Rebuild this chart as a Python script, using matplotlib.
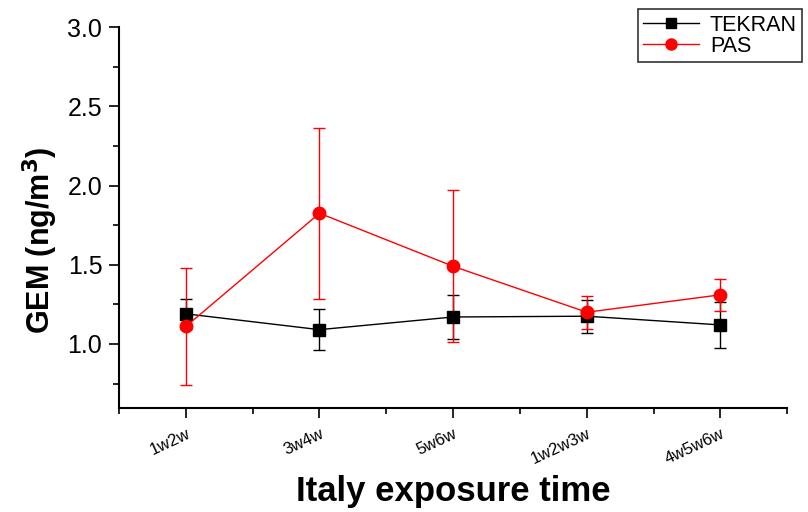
import matplotlib.pyplot as plt
from matplotlib.ticker import MultipleLocator
from matplotlib.lines import Line2D
import numpy as np

plt.rcParams['font.family'] = ['Liberation Sans', 'DejaVu Sans']

# GEM means and errors per exposure window
periods = ["1w2w", "3w4w", "5w6w", "1w2w3w", "4w5w6w"]
tekran = [1.19, 1.09, 1.17, 1.175, 1.12]
tekran_err = [0.095, 0.13, 0.14, 0.105, 0.145]
pas = [1.11, 1.825, 1.49, 1.20, 1.31]
pas_err = [0.37, 0.54, 0.48, 0.105, 0.10]

x = np.arange(1, len(periods) + 1)

fig = plt.figure(figsize=(8.08, 5.12), dpi=100)
ax = fig.add_axes([0.1473, 0.203, 0.827, 0.744])

ax.errorbar(x, tekran, yerr=tekran_err, color="black", marker="s", markersize=8,
            linewidth=1, elinewidth=1, capsize=4, capthick=1)
ax.errorbar(x, pas, yerr=pas_err, color="red", marker="o", markersize=9,
            linewidth=1, elinewidth=1, capsize=4, capthick=1)

ax.set_xlim(0.5, 5.5)
ax.set_ylim(0.595, 3.0)
ax.set_xticks(x)
ax.set_xticklabels(periods, rotation=25, ha="right", rotation_mode="anchor", fontsize=12)
ax.set_xticks(np.arange(0.5, 5.6, 1), minor=True)
ax.yaxis.set_minor_locator(MultipleLocator(0.25))
ax.set_yticks([1.0, 1.5, 2.0, 2.5, 3.0])
ax.set_yticklabels(["1.0", "1.5", "2.0", "2.5", "3.0"])
ax.tick_params(axis="y", labelsize=18, length=7, width=1.2, pad=5)
ax.tick_params(axis="x", length=7, width=1.2, pad=6)
ax.tick_params(which="minor", length=4, width=1.2)

for side in ["top", "right"]:
    ax.spines[side].set_visible(False)
for side in ["left", "bottom"]:
    ax.spines[side].set_linewidth(1.5)

ax.set_xlabel("Italy exposure time", fontsize=25, fontweight="bold")
ax.xaxis.set_label_coords(0.5, -0.175)
ax.set_ylabel("GEM (ng/m$^{\\mathbf{3}}$)", fontsize=22, fontweight="bold")
ax.yaxis.set_label_coords(-0.088, 0.44)

# legend shows plain line+marker samples
handles = [
    Line2D([], [], color="black", marker="s", markersize=7, linewidth=1),
    Line2D([], [], color="red", marker="o", markersize=8, linewidth=1),
]
leg = fig.legend(handles, ["TEKRAN", "PAS"], loc="upper right",
                 bbox_to_anchor=(0.993, 0.982), fontsize=15.5,
                 frameon=True, fancybox=False, edgecolor="black", handlelength=2.6,
                 borderpad=0.25, labelspacing=0.0, handletextpad=0.5, borderaxespad=0)
leg.get_frame().set_linewidth(1.2)

fig.savefig("out.png", dpi=100)
